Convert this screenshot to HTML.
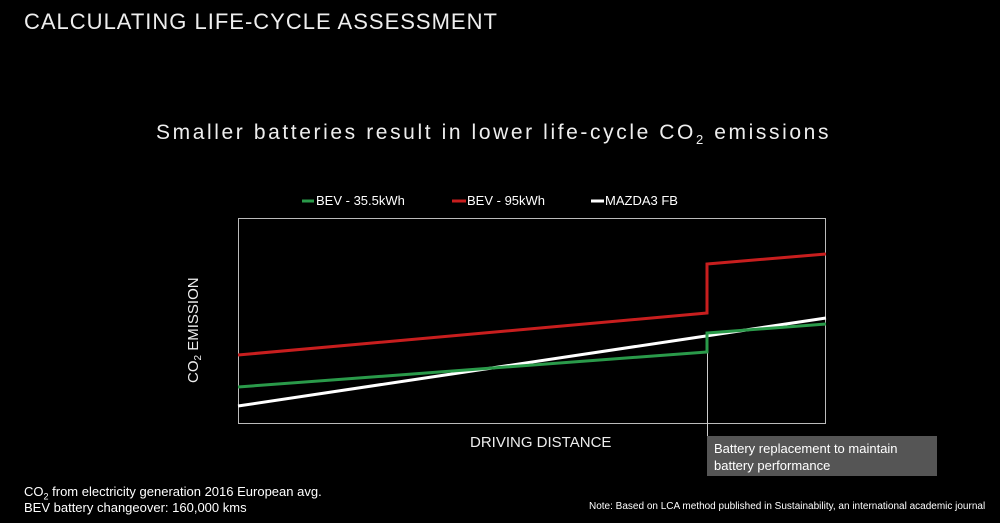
<!DOCTYPE html>
<html><head><style>
body{margin:0;background:#000;width:1000px;height:523px;overflow:hidden;font-family:"Liberation Sans",sans-serif;color:#fff;position:relative}
.t{position:absolute;white-space:nowrap}
</style></head><body>
<div class="t" style="left:24px;top:9px;font-size:22px;letter-spacing:1px;color:#eee">CALCULATING LIFE-CYCLE ASSESSMENT</div>
<div class="t" style="left:156px;top:121px;font-size:21px;letter-spacing:2.6px;color:#eee">Smaller batteries result in lower life-cycle CO<sub style="font-size:13px">2</sub> emissions</div>
<svg width="1000" height="523" style="position:absolute;left:0;top:0">
<g stroke-width="3" fill="none">
<line x1="302" y1="201" x2="314" y2="201" stroke="#2a9a4a"/>
<line x1="452" y1="201" x2="466" y2="201" stroke="#c81e1e"/>
<line x1="591" y1="201" x2="604" y2="201" stroke="#fff"/>
</g>
<rect x="238.5" y="218.5" width="587" height="205" fill="none" stroke="#bbb" stroke-width="1"/>
<line x1="707.5" y1="352" x2="707.5" y2="470" stroke="#ccc" stroke-width="1"/>
<rect x="707" y="436" width="230" height="40" fill="#555"/>
<polyline points="238,406 826,318" stroke="#fff" stroke-width="3" fill="none"/>
<polyline points="238,387 707,352 707,333 826,324" stroke="#2a9a4a" stroke-width="3" fill="none"/>
<polyline points="238,355 707,313 707,264 826,254" stroke="#c81e1e" stroke-width="3" fill="none"/>
<text x="0" y="0" transform="translate(198,383) rotate(-90)" font-size="15" fill="#eee" font-family="Liberation Sans">CO<tspan font-size="10" dy="3">2</tspan><tspan dy="-3"> EMISSION</tspan></text>
</svg>
<div class="t" style="left:316px;top:193px;font-size:13px">BEV - 35.5kWh</div>
<div class="t" style="left:467px;top:193px;font-size:13px">BEV - 95kWh</div>
<div class="t" style="left:605px;top:193px;font-size:13px">MAZDA3 FB</div>
<div class="t" style="left:470px;top:434px;font-size:15px;color:#eee">DRIVING DISTANCE</div>
<div class="t" style="left:714px;top:440px;font-size:13px;line-height:17px">Battery replacement to maintain<br>battery performance</div>
<div class="t" style="left:24px;top:484px;font-size:13px;line-height:16px">CO<sub style="font-size:9px;line-height:0">2</sub> from electricity generation 2016 European avg.<br>BEV battery changeover: 160,000 kms</div>
<div class="t" style="left:589px;top:501px;font-size:10px">Note: Based on LCA method published in Sustainability, an international academic journal</div>
</body></html>
